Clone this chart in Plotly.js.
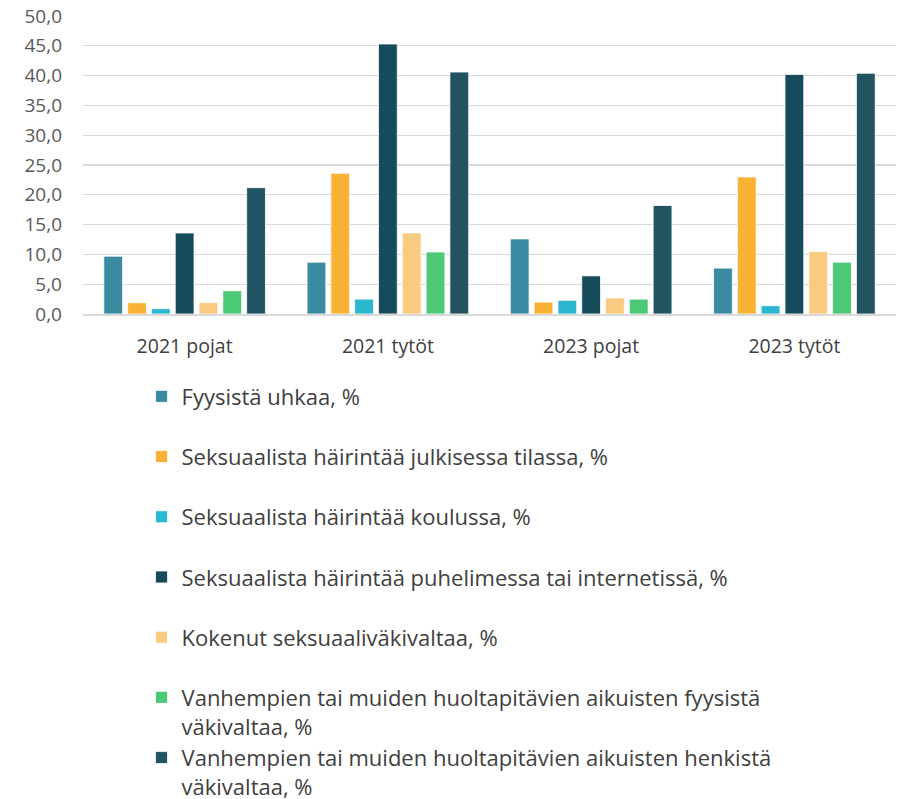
<!DOCTYPE html>
<html>
<head>
<meta charset="utf-8">
<script src="https://cdn.plot.ly/plotly-3.0.1.min.js"></script>
<style>
  html, body { margin: 0; padding: 0; background: #fff; }
  #chart { width: 901px; height: 799px; }
</style>
</head>
<body>
<div id="chart"></div>
<script>
// categories on the x axis
var groups = ['2021 pojat', '2021 tytöt', '2023 pojat', '2023 tytöt'];

// series names (legend)
var names = [
  'Fyysistä uhkaa, %',
  'Seksuaalista häirintää julkisessa tilassa, %',
  'Seksuaalista häirintää koulussa, %',
  'Seksuaalista häirintää puhelimessa tai internetissä, %',
  'Kokenut seksuaaliväkivaltaa, %',
  'Vanhempien tai muiden huoltapitävien aikuisten fyysistä<br>väkivaltaa, %',
  'Vanhempien tai muiden huoltapitävien aikuisten henkistä<br>väkivaltaa, %'
];

// values per series, one per group
var fyysinenUhka   = [9.7, 8.7, 12.6, 7.7];
var hairintaJulk   = [1.9, 23.6, 2.0, 23.0];
var hairintaKoulu  = [0.9, 2.5, 2.3, 1.4];
var hairintaNetti  = [13.6, 45.3, 6.4, 40.2];
var seksVakivalta  = [1.9, 13.6, 2.7, 10.5];
var fyysVakivalta  = [3.9, 10.4, 2.5, 8.7];
var henkVakivalta  = [21.2, 40.6, 18.2, 40.4];

var series = [fyysinenUhka, hairintaJulk, hairintaKoulu, hairintaNetti,
              seksVakivalta, fyysVakivalta, henkVakivalta];

var colors = ['#3A8BA1', '#F9B234', '#2BB8CE', '#164B5C', '#F9CB80', '#4CC975', '#225360'];

var data = series.map(function (vals, i) {
  // pad one-line names to two lines so every legend entry gets the same height
  var label = names[i].indexOf('<br>') < 0 ? names[i] + '<br> ' : names[i];
  return {
    type: 'bar',
    x: groups,
    y: vals,
    name: label,
    legendgroup: 'g' + i,
    marker: { color: colors[i], line: { color: '#ffffff', width: 0.8 } },
    hoverinfo: 'x+y'
  };
});

var layout = {
  width: 901,
  height: 799,
  margin: { l: 83, r: 5, t: 16, b: 485, autoexpand: false },
  paper_bgcolor: '#ffffff',
  plot_bgcolor: '#ffffff',
  separators: ', ',
  font: { family: '"Open Sans", "Noto Sans", sans-serif', color: '#404040' },
  barmode: 'group',
  bargap: 0.18,
  bargroupgap: 0.21,
  xaxis: {
    showgrid: false,
    showline: true,
    linecolor: '#D9D9D9',
    linewidth: 1.5,
    ticks: '',
    tickfont: { size: 19.5, color: '#404040' },
    ticklabelstandoff: 14
  },
  yaxis: {
    range: [0, 50],
    dtick: 5,
    tickformat: '.1f',
    showgrid: true,
    gridcolor: '#D9D9D9',
    gridwidth: 1.2,
    zeroline: false,
    ticks: '',
    tickfont: { size: 19, color: '#595959' },
    ticklabelstandoff: 20
  },
  showlegend: true,
  legend: {
    orientation: 'v',
    x: 0.072,
    xanchor: 'left',
    y: -0.2066,
    yanchor: 'top',
    valign: 'top',
    tracegroupgap: 0,
    maxheight: 600,
    font: { size: 22, color: '#404040' },
    bgcolor: 'rgba(0,0,0,0)'
  }
};

Plotly.newPlot('chart', data, layout, { displayModeBar: false, staticPlot: true });
</script>
</body>
</html>
